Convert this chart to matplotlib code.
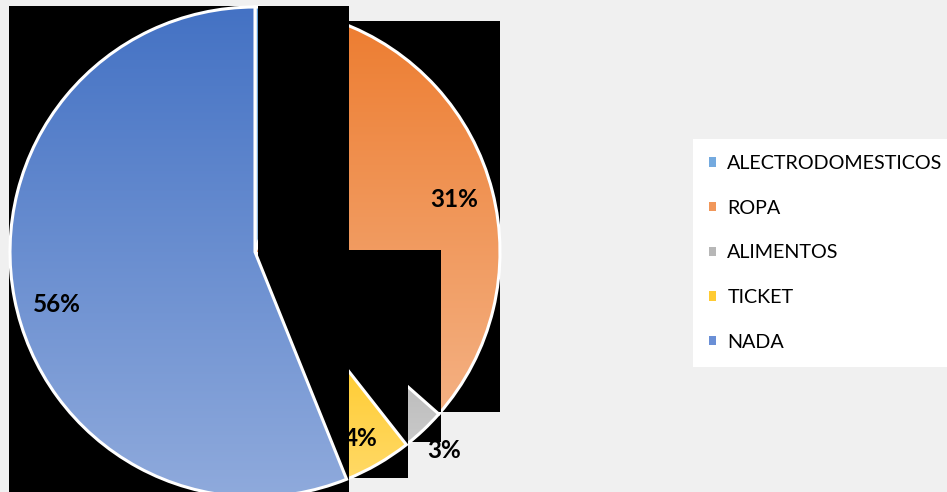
import numpy as np
import matplotlib
matplotlib.use("Agg")
import matplotlib.pyplot as plt
from matplotlib.patches import Rectangle, Patch
from matplotlib.colors import LinearSegmentedColormap

plt.rcParams['font.family'] = ['Lato', 'DejaVu Sans']

# -----------------------------
# Data (percent of answers)
# -----------------------------
categories = ["ALECTRODOMESTICOS", "ROPA", "ALIMENTOS", "TICKET", "NADA"]
shares = [5.5, 31.0, 2.9, 4.5, 56.1]

# gradient colours per slice (top -> bottom)
grad_top = ["#5B9BD5", "#ED7D31", "#A5A5A5", "#FFC000", "#4472C4"]
grad_bottom = ["#9DC3E6", "#F4B183", "#C9C9C9", "#FFD966", "#8FAADC"]
legend_colors = ["#74AADF", "#F1975A", "#B7B7B7", "#FFCB33", "#6A8FD6"]

# -----------------------------
# Figure geometry (pixels)
# -----------------------------
W, H = 947, 492
CX, CY, R = 255, 252, 245

def dx(px):
    return (px - CX) / R

def dy(py):
    return (CY - py) / R

fig = plt.figure(figsize=(W / 100, H / 100), dpi=100)
fig.patch.set_facecolor("#F0F0F0")
ax = fig.add_axes([(CX - R) / W, (H - CY - R) / H, 2 * R / W, 2 * R / H])

wedges, texts, autotexts = ax.pie(
    shares, startangle=90, counterclock=False, radius=1,
    autopct="%1.0f%%", pctdistance=0.6,
    wedgeprops=dict(edgecolor="white", linewidth=2.2),
    textprops=dict(fontsize=17.5, fontweight="bold", color="black"),
)

# slice layering as in the source picture
wedge_z = [1, 1, 3, 3.3, 5]
for w, top, bot, z in zip(wedges, grad_top, grad_bottom, wedge_z):
    ext = w.get_path().get_extents()
    cmap = LinearSegmentedColormap.from_list("g", [top, bot])
    im = ax.imshow(np.linspace(0, 1, 256).reshape(-1, 1), cmap=cmap,
                   extent=(ext.x0, ext.x1, ext.y0, ext.y1), origin="upper",
                   aspect="auto", interpolation="bicubic", zorder=z)
    im.set_clip_path(w)
    w.set_facecolor("none")
    w.set_zorder(z + 0.1)


def black_box(x0, y0, x1, y1, z):
    ax.add_patch(Rectangle((dx(x0), dy(y1)), (x1 - x0) / R, (y1 - y0) / R,
                           facecolor="black", edgecolor="none",
                           zorder=z, clip_on=False))


# black blocks of the rendered image
black_box(9, 6, 349, 492, 0.5)
black_box(349, 21, 500, 412, 0.5)
black_box(349, 21, 408, 478, 0.5)
black_box(408, 21, 441, 442, 0.5)
black_box(349, 250, 441, 412, 2)
black_box(349, 250, 408, 478, 3.2)
black_box(258, 6, 349, 492, 4)

# percent labels
label_px = [None, (454, 200), (444, 451), (361, 438), (57, 305)]
label_z = [3.5, 6, 6, 3.6, 6]
for t, pos, z in zip(autotexts, label_px, label_z):
    if pos is not None:
        t.set_position((dx(pos[0]), dy(pos[1])))
    t.set_zorder(z)

ax.set_xlim(-1, 1)
ax.set_ylim(-1, 1)
ax.axis("off")

handles = [Patch(facecolor=c, edgecolor="none") for c in legend_colors]
leg = fig.legend(handles, categories, loc="upper left",
                 bbox_to_anchor=(693 / W, 1 - 139 / H),
                 frameon=True, fancybox=False, fontsize=14.2,
                 handlelength=0.36, handleheight=0.36, handletextpad=0.56,
                 labelspacing=1.4, borderpad=0.82, borderaxespad=0)
leg.get_frame().set_facecolor("white")
leg.get_frame().set_edgecolor("none")
leg.get_frame().set_alpha(1)

fig.savefig("out.png", dpi=100, facecolor=fig.get_facecolor())
